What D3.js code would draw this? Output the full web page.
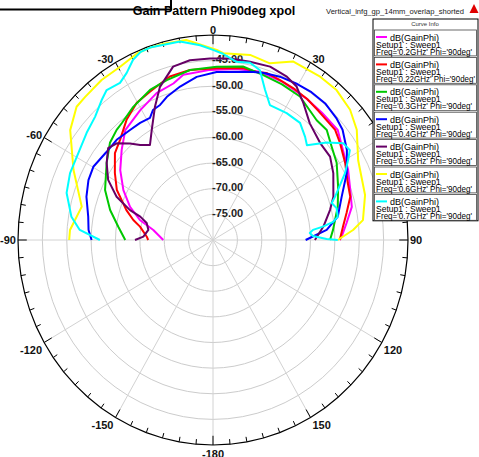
<!DOCTYPE html>
<html>
<head>
<meta charset="utf-8">
<script src="https://cdn.jsdelivr.net/npm/d3@7"></script>
<style>
  body { margin: 0; background: #fff; }
  svg { display: block; font-family: "Liberation Sans", Arial, sans-serif; }
</style>
</head>
<body>
<svg width="479" height="457"></svg>
<script>
// valores: [theta (deg), dB]
const freqs = ['0.2GHz', '0.22GHz', '0.3GHz', '0.4GHz', '0.5GHz', '0.6GHz', '0.7GHz'];
const colores = ['#ff00ff', '#ff0000', '#00c800', '#0000ff', '#660066', '#ffff00', '#00ffff'];

const gain02 = [[-90,-69.8],[-80.9,-67.6],[-75.4,-64.5],[-69.2,-61.8],[-62.1,-59.2],[-54.4,-56.6],[-46.8,-54.3],[-40,-52.0],[-30.5,-50.6],[-22,-49.1],[-14.9,-48.4],[-10.7,-47.2],[-1,-46.8],[8.3,-46.3],[16.4,-45.8],[25,-46.0],[35,-46.4],[42,-46.6],[50,-46.6],[56.7,-48.1],[63.8,-49.1],[70.9,-50.2],[77.2,-50.8],[83.1,-52.4],[88.6,-53.6],[90,-54.0]];
const gain022 = [[-90,-66.7],[-87.3,-66.4],[-80.1,-64.8],[-76.6,-63.2],[-71.8,-61.3],[-63.7,-58.0],[-57,-56.0],[-49.9,-53.7],[-44.3,-52.7],[-37.1,-50.6],[-30.3,-49.0],[-24.1,-48.3],[-21.1,-47.9],[-15.5,-46.9],[-8.1,-46.5],[1.3,-46.5],[10.4,-45.9],[15.3,-46.0],[18.6,-45.6],[23.8,-45.9],[29,-46.1],[35.2,-46.4],[40.6,-46.8],[49.4,-47.0],[54,-47.8],[61,-49.0],[68.1,-50.2],[73.3,-50.6],[79.1,-52.1],[84.4,-53.2],[90,-54.0]];
const gain03 = [[-90,-62.0],[-82.4,-60.4],[-74.5,-58.1],[-66.2,-55.8],[-55.4,-53.5],[-48.1,-51.6],[-42.6,-50.8],[-39.3,-50.5],[-32.2,-49.3],[-23.8,-48.0],[-16.9,-47.4],[-8.1,-46.5],[1.3,-46.2],[10.3,-45.6],[17.6,-46.2],[25,-46.5],[32.5,-46.8],[42.3,-48.4],[47.4,-48.3],[53.2,-49.6],[59.3,-50.5],[67.9,-52.3],[75.8,-53.6],[85.4,-55.3],[90,-56.0]];
const gain04 = [[-90,-55.1],[-85.6,-54.4],[-79.9,-54.0],[-72,-52.7],[-65.4,-51.9],[-59.8,-51.6],[-52,-52.2],[-45.3,-52.2],[-38.4,-52.6],[-33.2,-52.7],[-28.5,-52.9],[-25.9,-51.8],[-22.4,-51.5],[-18.7,-50.5],[-12.7,-49.3],[-6,-48.0],[1.3,-47.2],[13,-46.3],[17.4,-45.8],[23.3,-45.3],[29.6,-45.0],[35,-44.8],[41,-44.8],[47,-45.3],[51,-45.8],[57.4,-47.4],[64.5,-49.6],[72.3,-52.3],[79.9,-54.0],[85.2,-56.6],[90,-61.0]];
const gain05 = [[-90,-64.0],[-87.4,-65.7],[-81.6,-66.6],[-76.3,-66.0],[-73,-64.4],[-71.1,-62.0],[-66.9,-58.5],[-61.4,-55.5],[-55.4,-53.5],[-50.2,-52.0],[-46.3,-52.7],[-42.1,-54.6],[-38.9,-56.2],[-34.9,-57.4],[-30.3,-55.1],[-24.6,-51.4],[-20,-48.2],[-13.6,-45.2],[-7.7,-44.6],[-1,-44.6],[5.6,-44.4],[12.3,-44.4],[19.1,-44.2],[25.4,-44.7],[29.8,-45.5],[34.8,-47.5],[41.1,-49.8],[49.3,-51.0],[55.9,-51.0],[62.2,-52.1],[71.1,-53.9],[76.3,-55.3],[83.4,-57.2],[90,-59.1]];
const gain06 = [[-90,-50.5],[-86.2,-50.6],[-76.4,-52.3],[-64.5,-48.3],[-53.8,-43.7],[-47.1,-41.8],[-43.2,-41.7],[-36.2,-41.3],[-29.4,-41.2],[-23.2,-40.4],[-18.6,-40.3],[-14.7,-40.4],[-8,-40.6],[1.2,-42.9],[3.3,-43.5],[11.9,-43.1],[18.7,-43.6],[25.2,-41.5],[34.6,-41.3],[40.9,-41.3],[47.9,-42.1],[53.9,-43.5],[62.4,-46.4],[74.3,-47.6],[82.8,-49.0],[86.1,-51.2],[90,-54.4]];
const gain07 = [[-90,-56.8],[-85.9,-52.6],[-81.1,-50.6],[-73,-48.6],[-66,-47.9],[-59.9,-47.7],[-51.1,-46.7],[-45.2,-45.9],[-39.9,-44.4],[-36.7,-43.5],[-31.9,-43.9],[-28.5,-42.9],[-25,-41.2],[-22,-40.4],[-18.6,-40.3],[-9.9,-40.7],[-4,-41.9],[0,-42.9],[3.2,-43.6],[7.9,-44.9],[12.4,-44.6],[16.2,-45.5],[20,-48.8],[23.9,-51.2],[31.4,-51.0],[38,-51.0],[43.2,-52.4],[46.2,-53.3],[50.8,-49.9],[54.7,-47.3],[58,-46.9],[60.6,-48.2],[64.2,-49.9],[67.6,-51.8],[71.4,-53.6],[73.5,-54.6],[76.2,-53.9],[79.9,-54.0],[81.8,-55.1],[83.4,-57.3],[84.5,-59.4],[86.1,-60.1],[87.8,-59.5],[89.5,-56.7],[90,-54.4]];
const series = [gain02, gain022, gain03, gain04, gain05, gain06, gain07];

const niveles = [-75, -70, -65, -60, -55, -50, -45, -40];
const etiquetasR = ['-75.00', '-70.00', '-65.00', '-60.00', '-55.00', '-50.00', '-45.00'];
const angulosEtiq = [0, 30, 60, 90, 120, 150, -180, -150, -120, -90, -60, -30];

const svg = d3.select('svg');
const cx = 213, cy = 240, rx = 195, ry = 205;

// escalas (el grafico de HFSS es un poco eliptico)
const rX = d3.scaleLinear().domain([-80, -40]).range([0, rx]);
const rY = d3.scaleLinear().domain([-80, -40]).range([0, ry]);
const ang = d3.scaleLinear().domain([0, 360]).range([0, 2 * Math.PI]);
const px = (t, db) => cx + rX(db) * Math.sin(ang(t));
const py = (t, db) => cy - rY(db) * Math.cos(ang(t));
const linea = d3.line().x(d => px(d[0], d[1])).y(d => py(d[0], d[1]));

svg.append('rect').attr('width', 479).attr('height', 457).attr('fill', '#fff');

// anillos de la grilla
const vueltas = d3.range(0, 361, 5);
svg.append('g').selectAll('path').data(niveles.slice(0, -1)).enter().append('path')
  .attr('d', n => linea(vueltas.map(t => [t, n])))
  .attr('fill', 'none').attr('stroke', '#cccccc').attr('stroke-width', 1);

// radios cada 30 grados
svg.append('g').selectAll('line').data(d3.range(-150, 181, 30)).enter().append('line')
  .attr('x1', cx).attr('y1', cy)
  .attr('x2', t => px(t, -40)).attr('y2', t => py(t, -40))
  .attr('stroke', '#d2d2d2').attr('stroke-width', 1);

// borde exterior
svg.append('path').attr('d', linea(vueltas.map(t => [t, -40])))
  .attr('fill', 'none').attr('stroke', '#000').attr('stroke-width', 1.2);

// marcas cada 5 grados
svg.append('g').selectAll('line').data(d3.range(-180, 180, 5)).enter().append('line')
  .attr('x1', t => px(t, -40)).attr('y1', t => py(t, -40))
  .attr('x2', t => px(t, t % 30 === 0 ? -41.8 : -41.0))
  .attr('y2', t => py(t, t % 30 === 0 ? -41.8 : -41.0))
  .attr('stroke', '#000').attr('stroke-width', 1);

// etiquetas de angulo, pegadas al borde exterior
angulosEtiq.forEach(t => {
  const s = Math.sin(ang(t)), c = Math.cos(ang(t));
  const txt = svg.append('text').text(t)
    .attr('font-size', 11).attr('font-weight', 'bold').attr('fill', '#111')
    .attr('text-anchor', 'middle').attr('dominant-baseline', 'central');
  const w = txt.node().getComputedTextLength();
  const ox = Math.abs(s) > 0.1 ? Math.sign(s) * (w / 2 + 2) : 0;
  const oy = Math.abs(s) < 0.1 ? (c > 0 ? -5 : 8.5) : (c > 0.1 ? -3 : (c < -0.1 ? 7.5 : 0));
  txt.attr('x', px(t, -40) + ox).attr('y', py(t, -40) + oy);
});

// etiquetas radiales
svg.append('g').selectAll('text').data(etiquetasR).enter().append('text')
  .text(d => d)
  .attr('x', cx - 1)
  .attr('y', d => py(0, +d) - 1.5)
  .attr('font-size', 11).attr('font-weight', 'bold').attr('fill', '#222')
  .attr('dominant-baseline', 'central');

// curvas
svg.append('g').selectAll('path').data(series).enter().append('path')
  .attr('d', d => linea(d))
  .attr('fill', 'none')
  .attr('stroke', (d, i) => colores[i])
  .attr('stroke-width', 2)
  .attr('stroke-linejoin', 'round');

// titulo y marco superior
svg.append('text').text('Gain Pattern Phi90deg xpol')
  .attr('x', 214).attr('y', 15).attr('text-anchor', 'middle')
  .attr('font-size', 12.5).attr('font-weight', 'bold').attr('fill', '#000');
svg.append('path').attr('d', 'M0,9.5H171V0')
  .attr('fill', 'none').attr('stroke', '#000').attr('stroke-width', 2);

svg.append('text').text('Vertical_infg_gp_14mm_overlap_shorted')
  .attr('x', 326).attr('y', 13.5).attr('font-size', 7.6).attr('fill', '#222');
svg.append('path').attr('d', 'M474,4L478.5,13L469.5,13Z').attr('fill', '#e00000');

// leyenda
const ley = svg.append('g').attr('transform', 'translate(373,19)');
const altoItem = 27.4;
ley.append('rect').attr('width', 105).attr('height', 10 + altoItem * freqs.length)
  .attr('fill', '#fff').attr('stroke', '#000').attr('stroke-width', 1);
ley.append('text').text('Curve Info').attr('x', 52).attr('y', 7)
  .attr('text-anchor', 'middle').attr('font-size', 6).attr('fill', '#333');
freqs.forEach((f, i) => {
  const y0 = 10 + i * altoItem;
  const item = ley.append('g').attr('transform', `translate(0,${y0})`);
  item.append('rect').attr('x', 1.5).attr('y', 1).attr('width', 102).attr('height', altoItem - 1.5)
    .attr('fill', 'none').attr('stroke', '#444').attr('stroke-width', 0.8);
  item.append('line').attr('x1', 3).attr('x2', 14).attr('y1', 8).attr('y2', 8)
    .attr('stroke', colores[i]).attr('stroke-width', 2);
  item.append('text').text('dB(GainPhi)').attr('x', 17).attr('y', 11.5).attr('font-size', 9);
  item.append('text').text('Setup1 : Sweep1').attr('x', 3).attr('y', 18.5).attr('font-size', 8.5);
  item.append('text').text(`Freq='${f}' Phi='90deg'`).attr('x', 3).attr('y', 25.5)
    .attr('font-size', 8.5).attr('textLength', f.length > 6 ? 99 : 96).attr('lengthAdjust', 'spacingAndGlyphs');
});
</script>
</body>
</html>
